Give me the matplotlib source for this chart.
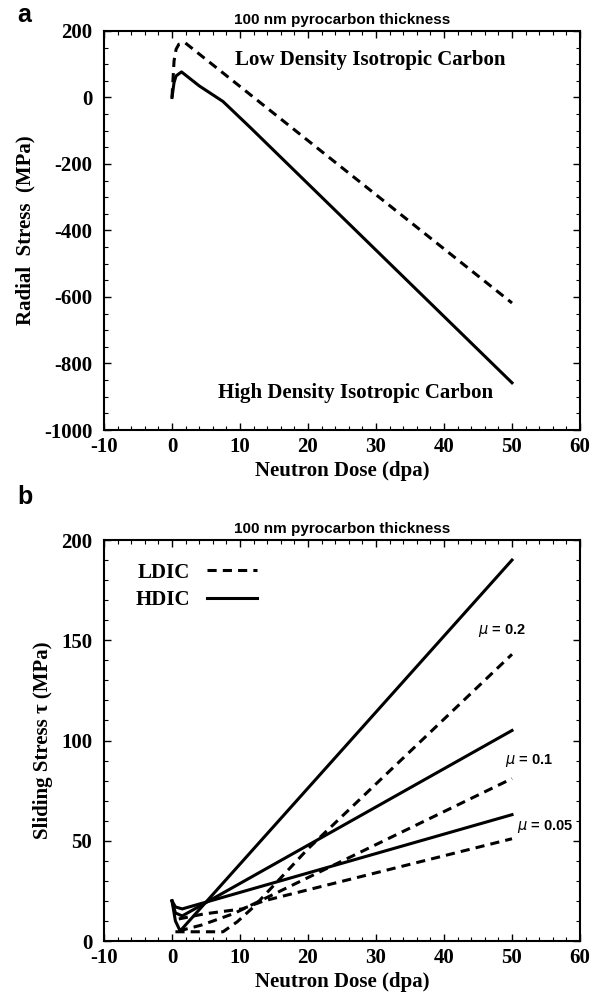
import matplotlib
matplotlib.use("Agg")
import matplotlib.pyplot as plt
from matplotlib.ticker import MultipleLocator
from matplotlib.lines import Line2D

plt.rcParams['axes.unicode_minus'] = False

# ---------------- data ----------------
# Panel a: radial stress vs neutron dose
a_ldic_x = [0, 0.3, 0.6, 1.0, 1.9, 50]
a_ldic_y = [0, 110, 145, 160, 165, -618]
a_hdic_x = [0, 0.3, 0.6, 1.4, 4.0, 7.5, 11.5, 50]
a_hdic_y = [0, 45, 65, 77, 35, -12, -90, -858]

# Panel b: sliding stress vs neutron dose
b_hdic_02_x = [0, 0.5, 1.2, 50]
b_hdic_02_y = [20, 10, 5, 190]
b_hdic_01_x = [0, 0.5, 1.5, 50]
b_hdic_01_y = [20, 14, 12.5, 105]
b_hdic_005_x = [0, 0.5, 1.5, 50]
b_hdic_005_y = [20, 17, 16, 63]

b_ldic_02_x = [0.5, 7.5, 9.6, 12, 20, 50]
b_ldic_02_y = [4.6, 4.6, 9.6, 17, 46, 143]
b_ldic_01_x = [1, 4.4, 9.1, 50]
b_ldic_01_y = [5, 8, 13.7, 81]
b_ldic_005_x = [1, 4.7, 10.3, 13.5, 50]
b_ldic_005_y = [11, 13.5, 16, 20, 51]

xticks = [-10, 0, 10, 20, 30, 40, 50, 60]
a_yticks = [200, 0, -200, -400, -600, -800, -1000]
b_yticks = [0, 50, 100, 150, 200]

# ---------------- style ----------------
SERIF = ['Liberation Serif', 'DejaVu Serif']
SANS = ['Liberation Sans', 'DejaVu Sans']
LW = 2.2
DASH = (0, (3, 2))

fig = plt.figure(figsize=(6.04, 9.97), dpi=100)
W, H = 604, 997

def make_ax(left, top, right, bottom):
    return fig.add_axes([left / W, 1 - bottom / H, (right - left) / W, (bottom - top) / H])

def style_ax(ax, yminor):
    ax.set_xlim(-10, 60)
    ax.set_xticks(xticks)
    ax.xaxis.set_minor_locator(MultipleLocator(2))
    ax.yaxis.set_minor_locator(MultipleLocator(yminor))
    ax.tick_params(which='both', direction='in', top=True, right=True)
    ax.tick_params(which='major', length=5, width=1.0)
    ax.tick_params(which='minor', length=3, width=0.8)
    ax.tick_params(axis='x', pad=5)
    ax.tick_params(axis='y', pad=8.5)
    for lab in ax.get_xticklabels() + ax.get_yticklabels():
        lab.set_fontfamily(SERIF)
        lab.set_fontweight('bold')
        lab.set_fontsize(15)
    for s in ax.spines.values():
        s.set_linewidth(1.5)

# ---------------- panel a ----------------
axa = make_ax(104, 31, 580, 430)
axa.plot(a_ldic_x, a_ldic_y, color='black', lw=LW, linestyle=DASH)
axa.plot(a_hdic_x, a_hdic_y, color='black', lw=LW)
axa.set_ylim(-1000, 200)
axa.set_yticks(a_yticks)
style_ax(axa, 50)
axa.set_xlabel('Neutron Dose (dpa)', family=SERIF, fontweight='bold', fontsize=15, labelpad=3)
axa.set_ylabel('Radial  Stress  (MPa)', family=SERIF, fontweight='bold', fontsize=15, labelpad=6)
axa.set_title('100 nm pyrocarbon thickness', family=SANS, fontweight='bold', fontsize=11, pad=5)
axa.text(9.3, 113, 'Low Density Isotropic Carbon', family=SERIF, fontweight='bold',
         fontsize=15, va='center', ha='left')
axa.text(6.8, -889, 'High Density Isotropic Carbon', family=SERIF, fontweight='bold',
         fontsize=15, va='center', ha='left')
fig.text(17 / W, 1 - 15 / H, 'a', family=SANS, fontweight='bold', fontsize=18, va='center', ha='left')

# ---------------- panel b ----------------
axb = make_ax(104, 540, 580, 941)
for xs, ys in [(b_hdic_02_x, b_hdic_02_y), (b_hdic_01_x, b_hdic_01_y), (b_hdic_005_x, b_hdic_005_y)]:
    axb.plot(xs, ys, color='black', lw=LW)
for xs, ys in [(b_ldic_02_x, b_ldic_02_y), (b_ldic_01_x, b_ldic_01_y), (b_ldic_005_x, b_ldic_005_y)]:
    axb.plot(xs, ys, color='black', lw=LW, linestyle=DASH)
axb.set_ylim(0, 200)
axb.set_yticks(b_yticks)
style_ax(axb, 10)
axb.set_xlabel('Neutron Dose (dpa)', family=SERIF, fontweight='bold', fontsize=15, labelpad=3)
axb.set_ylabel('Sliding Stress \u03c4 (MPa)', family=SERIF, fontweight='bold', fontsize=15, labelpad=6)
axb.set_title('100 nm pyrocarbon thickness', family=SANS, fontweight='bold', fontsize=11, pad=5)
fig.text(17 / W, 1 - 497 / H, 'b', family=SANS, fontweight='bold', fontsize=18, va='center', ha='left')

for x, y, t in [(45, 155, r'$\mu$ = 0.2'), (49, 90, r'$\mu$ = 0.1'), (50.7, 57, r'$\mu$ = 0.05')]:
    axb.text(x, y, t, family=SANS, fontweight='bold', fontsize=10.5, va='center', ha='left')

handles = [Line2D([], [], color='black', lw=LW, linestyle=DASH),
           Line2D([], [], color='black', lw=LW)]
leg = axb.legend(handles, ['LDIC', 'HDIC'], loc='upper left', bbox_to_anchor=(0.027, 0.99),
                 frameon=False, markerfirst=False, handlelength=2.4, handletextpad=0.8,
                 labelspacing=0.35, prop={'family': SERIF, 'weight': 'bold', 'size': 15})

fig.savefig('out.png', dpi=100)
